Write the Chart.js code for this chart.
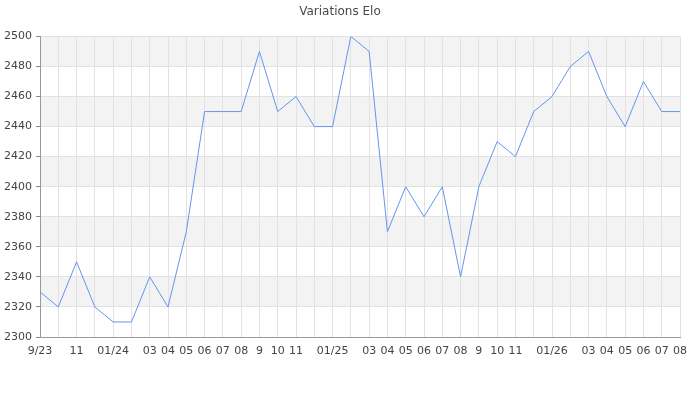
<!DOCTYPE html>
<html>
<head>
<meta charset="utf-8">
<title>Variations Elo</title>
<script src="https://cdn.jsdelivr.net/npm/chart.js@4.4.1/dist/chart.umd.min.js"></script>
<style>
  html, body { margin: 0; padding: 0; background: #fff; }
  #wrap { width: 700px; height: 400px; }
</style>
</head>
<body>
<div id="wrap"><canvas id="elo-chart" width="700" height="400"></canvas></div>
<script>
// months from 9/23 to 08/26, blank where the original skipped the label
const monthLabels = [
    '9/23', '', '11', '', '01/24', '', '03', '04', '05', '06', '07', '08',
    '9', '10', '11', '', '01/25', '', '03', '04', '05', '06', '07', '08',
    '9', '10', '11', '', '01/26', '', '03', '04', '05', '06', '07', '08'
];
const eloValues = [
    2330, 2320, 2350, 2320, 2310, 2310, 2340, 2320, 2370, 2450, 2450, 2450,
    2490, 2450, 2460, 2440, 2440, 2500, 2490, 2370, 2400, 2380, 2400, 2340,
    2400, 2430, 2420, 2450, 2460, 2480, 2490, 2460, 2440, 2470, 2450, 2450
];
const yMin = 2300;
const yMax = 2500;
const yStep = 10;       // minor tick step
const yLabelStep = 20;  // labelled ticks

const FONT = 'DejaVu Sans';

// alternating grey bands + short minor ticks on the y axis
const bandPlugin = {
    id: 'bands',
    beforeDraw(chart) {
        const { ctx, chartArea, scales } = chart;
        const y = scales.y;
        const major = y.ticks.filter(t => t.value % yLabelStep === 0);
        ctx.save();
        ctx.fillStyle = '#f3f3f3';
        for (let i = 0; i < major.length - 1; i++) {
            if (i % 2 === 1) {
                const top = y.getPixelForValue(major[i + 1].value);
                const bottom = y.getPixelForValue(major[i].value);
                ctx.fillRect(chartArea.left, top, chartArea.right - chartArea.left, bottom - top);
            }
        }
        ctx.restore();
    },
    afterDraw(chart) {
        const { ctx, chartArea, scales } = chart;
        const y = scales.y;
        ctx.save();
        ctx.strokeStyle = '#888';
        ctx.lineWidth = 1;
        y.ticks.forEach(t => {
            if (t.value % yLabelStep !== 0) {
                const py = Math.round(y.getPixelForValue(t.value)) + 0.5;
                ctx.beginPath();
                ctx.moveTo(chartArea.left - 2, py);
                ctx.lineTo(chartArea.left, py);
                ctx.stroke();
            }
        });
        ctx.restore();
    }
};

new Chart(document.getElementById('elo-chart'), {
    type: 'line',
    data: {
        labels: monthLabels,
        datasets: [{
            label: 'Elo',
            data: eloValues,
            borderColor: '#6495ed',
            borderWidth: 1,
            pointRadius: 0,
            tension: 0,
            fill: false
        }]
    },
    options: {
        responsive: false,
        animation: false,
        layout: { padding: { left: 0, right: 20, top: 0, bottom: 0 } },
        plugins: {
            legend: { display: false },
            tooltip: { enabled: false },
            title: {
                display: true,
                text: 'Variations Elo',
                color: '#4a4a4a',
                font: { family: FONT, size: 12, weight: 'normal' },
                padding: { top: 5, bottom: 17 }
            }
        },
        scales: {
            x: {
                offset: false,
                afterFit: s => { s.height = 63; },
                grid: { color: '#e2e2e2', drawTicks: false },
                border: { color: '#999' },
                ticks: {
                    autoSkip: false,
                    maxRotation: 0,
                    padding: 8,
                    color: '#444',
                    font: { family: FONT, size: 11 }
                }
            },
            y: {
                min: yMin,
                max: yMax,
                afterFit: s => { s.width = 40; },
                grid: {
                    color: c => (c.tick && c.tick.value % yLabelStep === 0) ? '#e2e2e2' : 'transparent',
                    tickColor: c => (c.tick && c.tick.value % yLabelStep === 0) ? '#888' : 'transparent',
                    tickLength: 4
                },
                border: { color: '#999' },
                ticks: {
                    stepSize: yStep,
                    padding: 4,
                    color: '#444',
                    font: { family: FONT, size: 11 },
                    callback: v => (v % yLabelStep === 0 ? v : '')
                }
            }
        }
    },
    plugins: [bandPlugin]
});
</script>
</body>
</html>
